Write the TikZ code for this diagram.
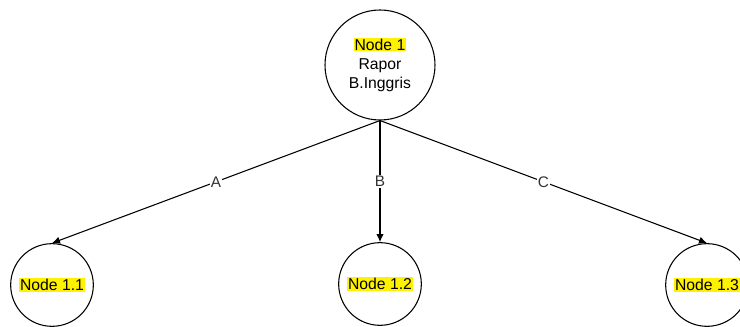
\documentclass[tikz,border=0pt]{standalone}
\usepackage{fontspec}
\setmainfont{Liberation Sans}
\usepackage{xcolor}
\usepackage{tikz}
\usetikzlibrary{arrows.meta}
\definecolor{hlyellow}{HTML}{FFF200}
\definecolor{lblgray}{HTML}{333333}
\newcommand{\hlbox}[1]{{\setlength{\fboxsep}{0.8pt}\colorbox{hlyellow}{#1}}}

\tikzset{
  treenode/.style={circle, draw=black, line width=0.8pt, fill=white, align=center,
    inner sep=0pt, font=\fontsize{11.8}{14.5}\selectfont},
  rootnode/.style={treenode, minimum size=82.5pt},
  leafnode/.style={treenode, minimum size=62pt},
  treeedge/.style={-{Latex[length=6pt,width=5.5pt]}, line width=0.8pt},
  edgelabel/.style={fill=white, inner sep=1pt, text=lblgray,
    font=\fontsize{11.5}{14}\selectfont}
}

\begin{document}
\begin{tikzpicture}[x=0.75pt, y=-0.75pt]

%% Background
\fill[white] (0,0) rectangle (740,327);
\clip (0,0) rectangle (740,327);

%% Root
\node[rootnode] (n1) at (380,65) {\hlbox{Node 1}\\Rapor\\B.Inggris};

%% Children
\node[leafnode] (n11) at (52,285) {\hlbox{Node 1.1}};
\node[leafnode] (n12) at (380,284) {\hlbox{Node 1.2}};
\node[leafnode] (n13) at (707,285) {\hlbox{Node 1.3}};

%% Edges
\draw[treeedge] (n1.south) -- node[edgelabel] {A} (n11.north);
\draw[treeedge] (n1.south) -- node[edgelabel] {B} (n12.north);
\draw[treeedge] (n1.south) -- node[edgelabel] {C} (n13.north);

\end{tikzpicture}
\end{document}
